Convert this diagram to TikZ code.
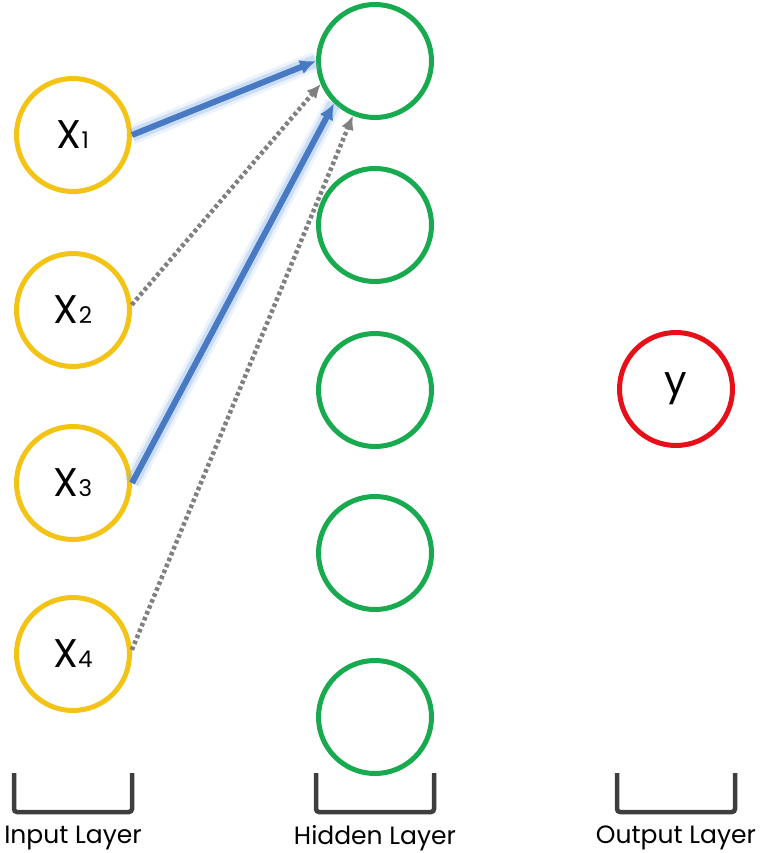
\documentclass[tikz,border=0pt]{standalone}
\usepackage{fontspec}
\setmainfont{Poppins}
\usetikzlibrary{arrows.meta,positioning,shadows}
\definecolor{inyellow}{RGB}{243,196,22}
\definecolor{hidgreen}{RGB}{24,170,78}
\definecolor{outred}{RGB}{232,16,24}
\definecolor{wblue}{RGB}{72,122,196}
\definecolor{wglow}{RGB}{130,172,232}
\definecolor{wgray}{RGB}{128,128,128}
\definecolor{brgray}{RGB}{62,62,62}
\newcommand{\idx}[1]{{\fontsize{23}{23}\selectfont #1}}
\tikzset{
  neuron/.style  = {circle, draw, line width=5pt, minimum size=113pt,
                    inner sep=0pt, fill=white, font=\fontsize{40}{40}\selectfont,
                    drop shadow={opacity=0.12, shadow xshift=1pt, shadow yshift=-2pt}},
  input/.style   = {neuron, draw=inyellow},
  hidden/.style  = {neuron, draw=hidgreen},
  output/.style  = {neuron, draw=outred},
  strong/.style  = {draw=wblue, line width=6pt, -{Latex[length=16pt,width=15pt]},
                    preaction={draw=wglow, line width=19pt, opacity=0.15, -},
                    preaction={draw=wglow, line width=13pt, opacity=0.3, -}},
  weak/.style    = {draw=wgray, line width=4.5pt, dash pattern=on 3.6pt off 2.8pt,
                    -{Latex[length=14pt,width=13pt]}},
  bracket/.style = {draw=brgray, line width=4.5pt, rounded corners=3pt},
  layer/.style   = {font=\fontsize{25}{25}\selectfont}
}
\begin{document}
\begin{tikzpicture}[x=1pt, y=-1pt]
  \useasboundingbox (0,0) rectangle (773,853);

  % input layer
  \foreach \i/\ypos in {1/135,2/310,3/483,4/654}
    \node[input] (x\i) at (73,\ypos) {X\idx{\i}};

  % hidden layer
  \foreach \i/\ypos in {1/61,2/225,3/390,4/553,5/717}
    \node[hidden] (h\i) at (375,\ypos) {};

  % output layer
  \node[output] (out) at (676,389) {y};

  % weights into the first hidden neuron
  \draw[strong] (x1.east) -- (h1.180);
  \draw[weak]   (x2.5)    -- (h1.203);
  \draw[strong] (x3.east) -- (h1.226);
  \draw[weak]   (x4.4)    -- (h1.248);

  % brackets and layer names
  \coordinate (brtop) at (0,773);
  \coordinate (brbot) at (0,812);
  \coordinate (lab)   at (0,838);
  \foreach \n/\name in {x4/Input Layer, h5/Hidden Layer, out/Output Layer}{
    \draw[bracket] (\n.west |- brtop) -- (\n.west |- brbot)
      -- (\n.east |- brbot) -- (\n.east |- brtop);
    \node[layer] (\n-lab) at (\n |- lab) {\name};
  }
\end{tikzpicture}
\end{document}
